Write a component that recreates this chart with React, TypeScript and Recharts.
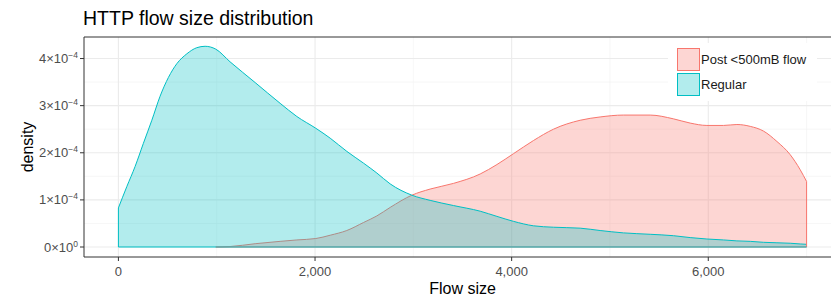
import {
  AreaChart,
  Area,
  XAxis,
  YAxis,
  CartesianGrid,
  ReferenceArea,
  ReferenceLine,
} from "recharts";

// flow size grid (bytes) shared by both densities
const flowSize = [
  0, 85, 170, 254, 340, 424, 509, 594, 696, 797, 882,
  990, 1136, 1391, 1645, 1815, 2008, 2154, 2323, 2493, 2629, 2764,
  2985, 3171, 3408, 3680, 3850, 4018, 4222, 4425, 4697, 4900,
  5137, 5409, 5646, 5816, 5986, 6155, 6291, 6427, 6562, 6698, 6833, 6935, 7000,
];

// density values in units of 1e-4
const regularDensity = [
  0.83, 1.28, 1.71, 2.2, 2.69, 3.2, 3.6, 3.89, 4.1, 4.23, 4.26,
  4.2, 3.93, 3.49, 3.05, 2.77, 2.52, 2.31, 2.03, 1.78, 1.57, 1.34,
  1.1, 0.99, 0.88, 0.76, 0.65, 0.545, 0.45, 0.42, 0.4, 0.35,
  0.3, 0.27, 0.24, 0.2, 0.17, 0.15, 0.13, 0.12, 0.1, 0.09, 0.08, 0.065, 0.057,
];

const postDensity = [
  null, null, null, null, null, null, null, null, null, null, null,
  0, 0.01, 0.07, 0.12, 0.15, 0.18, 0.25, 0.35, 0.52, 0.66, 0.84,
  1.1, 1.23, 1.35, 1.55, 1.75, 1.98, 2.26, 2.5, 2.69, 2.76,
  2.8, 2.8, 2.72, 2.63, 2.58, 2.58, 2.6, 2.56, 2.46, 2.24, 1.96, 1.64, 1.39,
];

const xTicks = [0, 2000, 4000, 6000];
const xMinor = [1000, 3000, 5000, 7000];
const yTicks = [0, 1, 2, 3, 4];
const yMinor = [0.5, 1.5, 2.5, 3.5];

const seriesNames = ["Post <500mB flow", "Regular"];
const seriesColors = ["#F8766D", "#00BFC4"];

const data = flowSize.map((size, i) => ({
  size,
  post: postDensity[i],
  regular: regularDensity[i],
}));

const X_DOMAIN = [-350, 7350];
const Y_DOMAIN = [-0.212, 4.457];

const FONT = "'Liberation Sans', Arial, sans-serif";

const first = 0;
const last = flowSize.length - 1;
const postStart = postDensity.findIndex((v) => v !== null);

const YTick = (props: any) => {
  const { x, y, payload } = props;
  const v = payload.value;
  return (
    <text
      x={x}
      y={y}
      dy="0.35em"
      textAnchor="end"
      fill="#4d4d4d"
      fontSize={13}
      fontFamily={FONT}
    >
      <tspan>{`${v}×10`}</tspan>
      <tspan dy={-5} fontSize={8.5}>
        {v === 0 ? "0" : "−4"}
      </tspan>
    </text>
  );
};

const LegendBox = () => (
  <div
    style={{
      position: "absolute",
      left: 668,
      top: 43,
      width: 149,
      height: 58,
      background: "#fff",
    }}
  >
    {seriesNames.map((name, i) => (
      <div
        key={name}
        style={{
          position: "absolute",
          left: 9,
          top: 5 + i * 25,
          height: 23,
          display: "flex",
          alignItems: "center",
          whiteSpace: "nowrap",
        }}
      >
        <div
          style={{
            width: 21,
            height: 21,
            border: `1px solid ${seriesColors[i]}`,
            background: seriesColors[i] + "4d",
          }}
        />
        <span
          style={{
            marginLeft: 1,
            fontSize: 13,
            color: "#1a1a1a",
            fontFamily: FONT,
          }}
        >
          {name}
        </span>
      </div>
    ))}
  </div>
);

export default function App() {
  return (
    <div
      style={{
        position: "absolute",
        left: 0,
        top: 0,
        width: 831,
        height: 298,
        overflow: "hidden",
        background: "#fff",
        fontFamily: FONT,
      }}
    >
      <div
        style={{
          position: "absolute",
          left: 83,
          top: 9,
          fontSize: 19.5,
          lineHeight: "19.5px",
          color: "#000",
          whiteSpace: "nowrap",
        }}
      >
        HTTP flow size distribution
      </div>

      <AreaChart
        width={845}
        height={298}
        data={data}
        margin={{ top: 37, right: 4, bottom: 0, left: 0 }}
      >
        <CartesianGrid
          stroke="#f2f2f2"
          strokeWidth={0.6}
          verticalValues={xMinor}
          horizontalValues={yMinor}
        />
        <CartesianGrid
          stroke="#ebebeb"
          strokeWidth={1.1}
          verticalValues={xTicks}
          horizontalValues={yTicks}
        />
        <XAxis
          type="number"
          dataKey="size"
          domain={X_DOMAIN}
          ticks={xTicks}
          allowDataOverflow
          height={41}
          axisLine={false}
          tickSize={4}
          tickMargin={6}
          tickLine={{ stroke: "#333" }}
          tick={{ fill: "#4d4d4d", fontSize: 13, fontFamily: FONT }}
          tickFormatter={(v: number) => v.toLocaleString("en-US")}
          label={{
            value: "Flow size",
            position: "insideBottom",
            offset: 4,
            fill: "#000",
            fontSize: 16,
            fontFamily: FONT,
          }}
        />
        <YAxis
          type="number"
          domain={Y_DOMAIN}
          ticks={yTicks}
          allowDataOverflow
          width={84}
          axisLine={false}
          tickSize={4}
          tickLine={{ stroke: "#333" }}
          tick={<YTick />}
          label={{
            value: "density",
            angle: -90,
            position: "center",
            dx: -15,
            fill: "#000",
            fontSize: 16,
            fontFamily: FONT,
          }}
        />
        <Area
          type="monotone"
          dataKey="post"
          stroke={seriesColors[0]}
          strokeWidth={1}
          fill={seriesColors[0]}
          fillOpacity={0.3}
          dot={false}
          activeDot={false}
          isAnimationActive={false}
        />
        <ReferenceLine
          segment={[
            { x: flowSize[last], y: 0 },
            { x: flowSize[last], y: postDensity[last] as number },
          ]}
          stroke={seriesColors[0]}
          strokeWidth={1}
        />
        <ReferenceLine
          segment={[
            { x: flowSize[postStart], y: 0 },
            { x: flowSize[last], y: 0 },
          ]}
          stroke={seriesColors[0]}
          strokeWidth={1}
        />
        <Area
          type="monotone"
          dataKey="regular"
          stroke={seriesColors[1]}
          strokeWidth={1}
          fill={seriesColors[1]}
          fillOpacity={0.3}
          dot={false}
          activeDot={false}
          isAnimationActive={false}
        />
        <ReferenceLine
          segment={[
            { x: flowSize[first], y: 0 },
            { x: flowSize[first], y: regularDensity[first] },
          ]}
          stroke={seriesColors[1]}
          strokeWidth={1}
        />
        <ReferenceLine
          segment={[
            { x: flowSize[first], y: 0 },
            { x: flowSize[last], y: 0 },
          ]}
          stroke={seriesColors[1]}
          strokeWidth={1}
        />
        <ReferenceArea
          x1={X_DOMAIN[0]}
          x2={X_DOMAIN[1]}
          y1={Y_DOMAIN[0]}
          y2={Y_DOMAIN[1]}
          fill="none"
          stroke="#333"
          strokeWidth={1}
          ifOverflow="visible"
        />
      </AreaChart>

      <LegendBox />
    </div>
  );
}
